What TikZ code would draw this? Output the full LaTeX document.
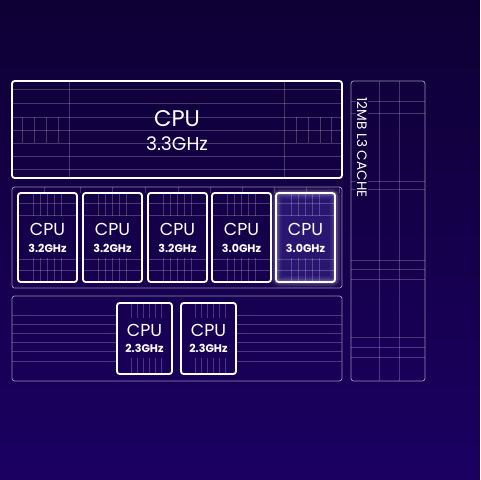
\documentclass[tikz,border=0pt]{standalone}
\usepackage{fontspec}
\setmainfont{Poppins}
\usetikzlibrary{fit,positioning,calc}

\definecolor{bgtop}{RGB}{14,0,52}
\definecolor{bgbot}{RGB}{27,0,98}
\definecolor{glowin}{RGB}{40,22,112}

\tikzset{
	core/.style={draw=white, line width=1.4pt, rounded corners=2pt, inner sep=0pt},
	group/.style={draw=white!55!bgbot, line width=0.6pt, rounded corners=2pt, inner sep=0pt},
	grid line/.style={draw=white, opacity=0.22, line width=0.4pt},
	big label/.style={text=white, inner sep=0pt, font=\fontsize{17}{17}\selectfont},
	mid label/.style={text=white, inner sep=0pt, font=\fontsize{13}{13}\selectfont},
	freq label/.style={text=white, inner sep=0pt, font=\fontsize{8.3}{8.3}\selectfont\bfseries},
}

\begin{document}
\begin{tikzpicture}[x=0.75pt, y=-0.75pt]
		% background
		\shade[top color=bgtop, bottom color=bgbot] (0,0) rectangle (480,480);
		\useasboundingbox (0,0) rectangle (480,480);

		% big P core
		\foreach \y in {89,103,117,130,143,156,169}
			\draw[grid line] (12,\y) -- (342,\y);
		\draw[grid line] (69,81) -- (69,178);
		\draw[grid line] (284,81) -- (284,178);
		\foreach \x in {22,34,46,58,296,308,320,331}
			\draw[grid line] (\x,117) -- (\x,143);
		\node[core, fit={(12,81) (342,178)}] (pbig) {};
		\node[big label] (pbigname) at (177,119) {CPU};
		\node[mid label, font=\fontsize{14}{14}\selectfont] at (177,144) {3.3GHz};

		% P cores row
		\node[group, fit={(12,187) (342,288)}] (prow) {};
		\foreach \x in {44,80,112,145,178,210,242,274,306,339}
			\draw[grid line] (\x,187) -- (\x,193);
		\foreach \n/\x/\f in {1/18/3.2GHz, 2/83/3.2GHz, 3/148/3.2GHz, 4/212/3.0GHz, 5/276/3.0GHz}{
			\ifnum\n=5
				\fill[glowin] (\x,193) rectangle ++(60,89);
				\foreach \w/\o in {9/0.05,6/0.08,3.5/0.14}
					\draw[white, line width=\w pt, opacity=\o, rounded corners=3pt] (\x,193) rectangle ++(60,89);
			\fi
			\foreach \dx in {15,22,29,36,43}{
				\draw[grid line] (\x+\dx,193) -- (\x+\dx,216);
				\draw[grid line] (\x+\dx,258) -- (\x+\dx,282);
			}
			\foreach \dy in {10,22,66,77}
				\draw[grid line] (\x,193+\dy) -- (\x+59,193+\dy);
			\node[core, fit={(\x,193) (\x+59,282)}] (p\n) {};
			\node[mid label] (p\n name) at (\x+29.5,229) {CPU};
			\node[freq label] at (\x+29.5,248) {\f};
		}

		% E cores row
		\foreach \y in {315,324,333,342,351,361}{
			\draw[grid line] (12,\y) -- (117,\y);
			\draw[grid line] (237,\y) -- (342,\y);
		}
		\node[group, fit={(12,296) (342,381)}] (erow) {};
		\foreach \n/\x in {1/117, 2/181}{
			\foreach \dx in {14,20,26,32,38,44}{
				\draw[grid line] (\x+\dx,303) -- (\x+\dx,318);
				\draw[grid line] (\x+\dx,358) -- (\x+\dx,374);
			}
			\node[core, fit={(\x,303) (\x+55,374)}] (e\n) {};
			\node[mid label] (e\n name) at (\x+27.5,330) {CPU};
			\node[freq label] at (\x+27.5,348) {2.3GHz};
		}

		% L3 cache
		\foreach \x in {379,399}
			\draw[grid line] (\x,81) -- (\x,381);
		\foreach \y in {101,113,181,189,260,269,279,337,347,357}
			\draw[grid line] (351,\y) -- (425,\y);
		\node[group, fit={(351,81) (425,381)}] (l3) {};
		\node[mid label, rotate=-90, anchor=west, fill=bgtop!80!bgbot, inner sep=1pt,
			font=\fontsize{10.2}{10.2}\selectfont] at (362,96) {12MB L3 CACHE};
	\end{tikzpicture}
\end{document}
